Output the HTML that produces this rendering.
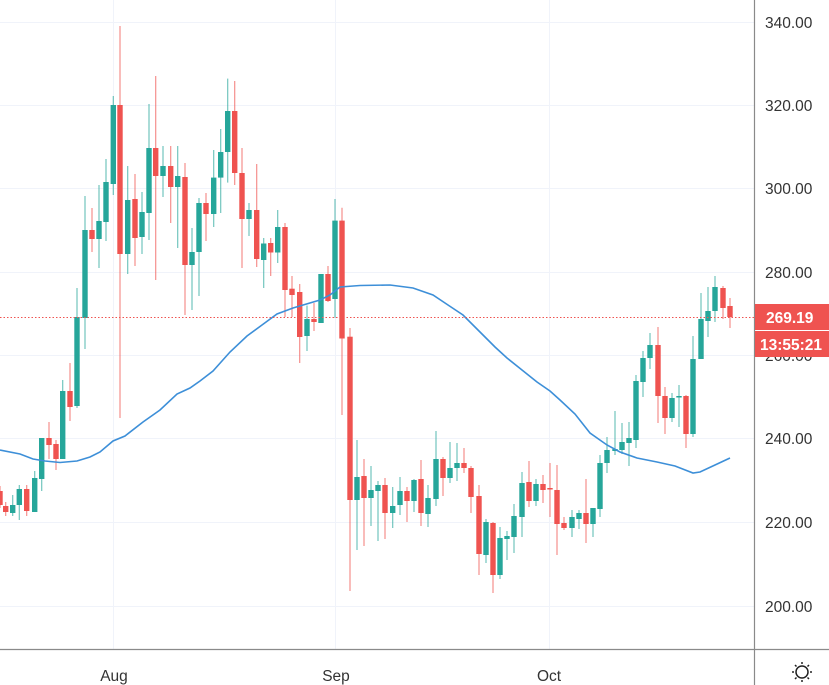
<!DOCTYPE html>
<html><head><meta charset="utf-8"><style>
html,body{margin:0;padding:0;background:#fff;}
svg{display:block;font-family:"Liberation Sans",sans-serif;}
</style></head><body>
<svg id="c" width="829" height="685" viewBox="0 0 829 685" xmlns="http://www.w3.org/2000/svg">
<g stroke="#f0f3fa" stroke-width="1">
<line x1="0" y1="22.5" x2="754" y2="22.5"/><line x1="0" y1="105.5" x2="754" y2="105.5"/>
<line x1="0" y1="188.5" x2="754" y2="188.5"/><line x1="0" y1="272.5" x2="754" y2="272.5"/>
<line x1="0" y1="355.5" x2="754" y2="355.5"/><line x1="0" y1="438.5" x2="754" y2="438.5"/>
<line x1="0" y1="522.5" x2="754" y2="522.5"/><line x1="0" y1="606.5" x2="754" y2="606.5"/>
<line x1="113.5" y1="0" x2="113.5" y2="649"/><line x1="335.5" y1="0" x2="335.5" y2="649"/>
<line x1="549.5" y1="0" x2="549.5" y2="649"/>
</g>
<g id="cd"></g>
<polyline fill="none" stroke="#3d8fd8" stroke-width="1.6" points="0,450 20,454 33,459 45,461 60,462.5 77,461 90,457 100,452 113,441 125,436 143,422 160,410 177,394 190,388 200,381 213,371 230,352 247,336 262,325 277,314 293,308 320,300 330,295 340,287 360,285.5 390,285 413,288 433,295 448,305 463,315 480,332 495,347 507,358 522,370 537,382 550,391 560,400 575,414 590,433 607,445 620,452 637,458 657,462 675,466 693,473 700,472 715,465 730,458"/>
<line x1="0" y1="317.5" x2="754" y2="317.5" stroke="#ef5350" stroke-width="1" stroke-dasharray="1.5,2"/>
<line x1="754.5" y1="0" x2="754.5" y2="685" stroke="#8a8a8a" stroke-width="1.2"/>
<line x1="0" y1="649.5" x2="829" y2="649.5" stroke="#8a8a8a" stroke-width="1.2"/>
<g fill="#333" font-size="15.5">
<text x="765" y="28">340.00</text><text x="765" y="111">320.00</text>
<text x="765" y="194">300.00</text><text x="765" y="278">280.00</text>
<text x="765" y="361">260.00</text><text x="765" y="444">240.00</text>
<text x="765" y="528">220.00</text><text x="765" y="612">200.00</text>
<text x="114" y="681" text-anchor="middle">Aug</text>
<text x="336" y="681" text-anchor="middle">Sep</text>
<text x="549" y="681" text-anchor="middle">Oct</text>
</g>
<rect x="755" y="304" width="74" height="26" fill="#ef5350"/>
<rect x="755" y="331" width="74" height="26" fill="#ef5350"/>
<g fill="#fff" font-size="15.5" font-weight="bold">
<text x="766" y="323">269.19</text><text x="760" y="350">13:55:21</text>
</g>
<g stroke="#222" stroke-width="1.5" fill="none">
<circle cx="802" cy="672" r="6"/>
<line x1="802" y1="662" x2="802" y2="664"/><line x1="802" y1="680" x2="802" y2="682"/>
<line x1="792" y1="672" x2="794" y2="672"/><line x1="810" y1="672" x2="812" y2="672"/>
<line x1="795" y1="665" x2="796.5" y2="666.5"/><line x1="807.5" y1="677.5" x2="809" y2="679"/>
<line x1="809" y1="665" x2="807.5" y2="666.5"/><line x1="795" y1="679" x2="796.5" y2="677.5"/>
</g>
</svg>
<script>
// [x, openY, closeY, highY, lowY]
var d=[
[0,491,505,486,508],[5.7,506,512,502,516],[12.7,513,505,495,516],[19.3,505,489,485,520],[26.7,489,511,485,516],
[34.7,512,478,471,512],[41.7,479,438,438,491],[49,438,445,422,459],[56,444,459,440,470],[62.7,459,391,380,459],
[70,391,407,363,421],[77,406,317,288,408],[85,318,230,196,349],[92,230,239,208,252],[99,239,221,185,268],
[106,222,182,159,241],[113.3,184,105,96,195],[120,105,254,26,418],[127.7,254,200,166,274],[135,199,238,174,266],
[142,237,212,192,254],[149,213,148,104,240],[155.7,148,176,76,280],[163,176,166,146,197],[170.7,166,187,146,223],
[177.7,187,176,146,248],[185,177,265,163,315],[192,265,252,228,310],[199,252,203,198,296],[206,203,214,193,241],
[213.7,214,177.6,150,227],[220.7,177.6,152,129,213],[227.7,152,111,78.6,182.6],[234.7,111,173,81,185],[242,173,219,148,268],
[249,219,210,203,236],[256.7,210,259,164,267],[263.7,260,243.5,238,288],[270.7,243,252.5,238,276],[277.7,252.5,227,210,263],
[285,227,290,223,317],[292,288.7,295,276,317],[299.7,292,337,284,363],[307,336,319,305.5,351],[314,319,322,303,331],
[321,323,274,274,323],[328,274,301,266,302],[335,299,220.6,199,318],[342,220.6,338.5,207.7,415],[350,336.7,500,328,591],
[357,500,477,440,550],[364,476,498,459,546],[371,498,490,466,526],[378,491,485,481,541],[385,485,513,478,539],
[392.7,513,506,487,528],[400,505,491,477,515],[407,491,501,487,522],[414,501,480,479,512],[421,479,513,460,526],
[428,514,498,485,527],[436,499,459,431,506],[443,459,478,457,496],[450,478,468,442,483],[457,468,463,443,481],
[464,463,468,448,473],[471,468,497,466,513],[479,496,554,485,575],[486,555,522,519,563],[493,523,575,522,593],
[500,575,538,527,579],[507,539,536,531,560],[514,537,516,504,553],[522,517,483,472,537],[529,482,501,461,507],
[536,501,484,479,506],[543,484,490,475,503],[550,488,489,463,517],[557,490,524,465,555],[564,523,528,517,530],
[572,528,517,510,537],[579,519,513,510,529],[586,513,524,479,543],[593,524,508,508,537],[600,509,463,455,517],
[607,463,450,437,473],[615,451,449,411,455],[622,450,442,423,454],[629,443,438,422,466],[636,440,381,375,448],
[643,382,358,351,397],[650,358,345,333,369],[658,345,396,327,423],[665,396,418,387,434],[672,418,398,393,422],
[679,397,396,385,427],[686,396,434,395,448],[693,434,359,336,437],[701,359,319,293,359],[708,321,311,287,337],
[715,311,287,276,322],[723,288,308,286,319],[730,306,317,298,328]];
var g=document.getElementById('cd'),s='';
d.forEach(function(c){
 var x=c[0],o=c[1],cl=c[2],up=cl<=o,col=up?'#26a69a':'#ef5350';
 var t=Math.min(o,cl),b=Math.max(o,cl); if(b-t<1.5){b=t+1.5;}
 s+='<line x1="'+x+'" x2="'+x+'" y1="'+c[3]+'" y2="'+c[4]+'" stroke="'+col+'" stroke-opacity="0.65" stroke-width="1.2"/>';
 s+='<rect x="'+(x-2.7)+'" y="'+t+'" width="5.4" height="'+(b-t)+'" fill="'+col+'"/>';
});
g.innerHTML=s;
</script>
</body></html>
